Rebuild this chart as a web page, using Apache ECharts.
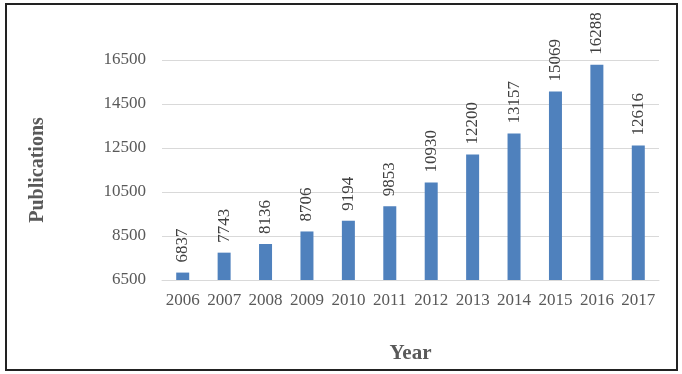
<!DOCTYPE html>
<html>
<head>
<meta charset="utf-8">
<script src="https://cdn.jsdelivr.net/npm/echarts@6/dist/echarts.min.js"></script>
<style>
  html, body { margin: 0; padding: 0; background: #fff; }
  #main { width: 682px; height: 374px; }
</style>
</head>
<body>
<div id="main"></div>
<script>
var years = ['2006', '2007', '2008', '2009', '2010', '2011', '2012', '2013', '2014', '2015', '2016', '2017'];
var publications = [6837, 7743, 8136, 8706, 9194, 9853, 10930, 12200, 13157, 15069, 16288, 12616];
var yMin = 6500, yMax = 16500, yStep = 2000;

var myChart = echarts.init(document.getElementById('main'));
var font = '"Liberation Serif", "Times New Roman", serif';

option = {
    animation: false,
    grid: { left: 162, right: 23, top: 60, bottom: 94 },
    graphic: [{
        type: 'rect',
        shape: { x: 6, y: 4, width: 671, height: 366 },
        style: { fill: 'none', stroke: '#222', lineWidth: 2 }
    }],
    xAxis: {
        type: 'category',
        data: years,
        name: 'Year',
        nameLocation: 'middle',
        nameGap: 63,
        nameTextStyle: { fontFamily: font, fontSize: 21, fontWeight: 'bold', color: '#595959' },
        axisLine: { lineStyle: { color: '#d9d9d9' } },
        axisTick: { show: false },
        axisLabel: { interval: 0, fontFamily: font, fontSize: 17, color: '#595959', margin: 12 }
    },
    yAxis: {
        type: 'value',
        min: yMin,
        max: yMax,
        interval: yStep,
        name: 'Publications',
        nameLocation: 'middle',
        nameGap: 114,
        nameTextStyle: { fontFamily: font, fontSize: 20, fontWeight: 'bold', color: '#595959' },
        axisLine: { show: false },
        axisTick: { show: false },
        splitLine: { lineStyle: { color: '#d9d9d9' } },
        axisLabel: {
            fontFamily: font, fontSize: 17, color: '#595959', margin: 16,
            formatter: function (v) { return String(v); }
        }
    },
    series: [{
        type: 'bar',
        data: publications,
        barWidth: 13,
        itemStyle: { color: '#4f81bd' },
        label: {
            show: true,
            position: 'top',
            rotate: 90,
            align: 'left',
            verticalAlign: 'middle',
            distance: 10,
            fontFamily: font,
            fontSize: 17,
            color: '#404040'
        }
    }]
};
myChart.setOption(option);
</script>
</body>
</html>
